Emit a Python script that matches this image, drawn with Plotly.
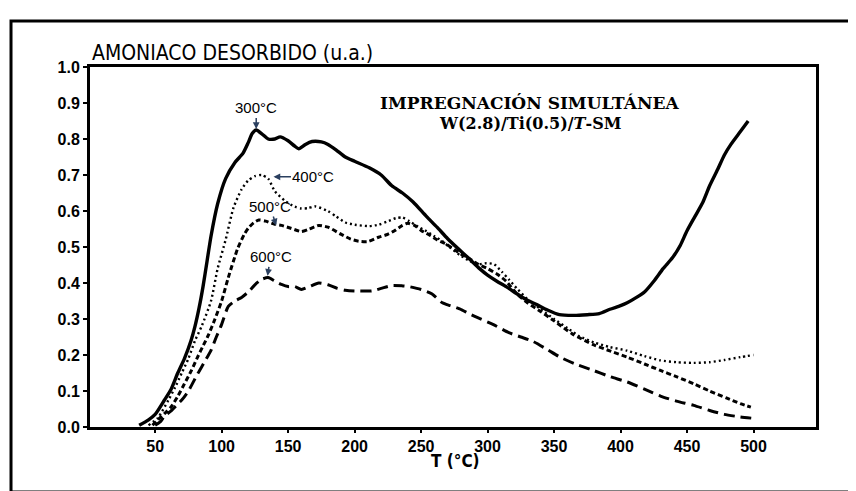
import plotly.graph_objects as go

# ---- data (T in °C, ammonia desorbed in a.u.) ----
x300 = [38, 45, 50, 57, 62, 67, 72, 77, 80, 83, 86, 89, 92, 97, 103, 110, 116, 120, 123, 126, 130, 135, 140, 144,
        150, 155, 158, 163, 168, 175, 180, 186, 193, 200, 211, 220, 228, 236, 244, 254, 262, 270, 278, 286, 294,
        300, 307, 314, 322, 330, 337, 345, 354, 365, 375, 384, 392, 400, 405, 412, 418, 425, 432, 439, 445, 450,
        456, 462, 467, 473, 478, 483, 490, 496]
y300 = [0.005, 0.02, 0.035, 0.075, 0.105, 0.15, 0.19, 0.24, 0.28, 0.33, 0.39, 0.46, 0.53, 0.62, 0.69, 0.735, 0.76,
        0.79, 0.815, 0.825, 0.815, 0.80, 0.80, 0.806, 0.795, 0.78, 0.773, 0.785, 0.793, 0.792, 0.785, 0.77, 0.75,
        0.738, 0.72, 0.70, 0.67, 0.65, 0.625, 0.585, 0.555, 0.523, 0.495, 0.468, 0.44, 0.422, 0.405, 0.39, 0.37,
        0.352, 0.34, 0.325, 0.312, 0.31, 0.312, 0.315, 0.327, 0.337, 0.345, 0.36, 0.375, 0.405, 0.44, 0.47, 0.505,
        0.545, 0.585, 0.625, 0.67, 0.715, 0.755, 0.785, 0.82, 0.85]

x400 = [45, 52, 60, 65, 70, 75, 80, 85, 92, 97, 103, 109, 115, 120, 125, 130, 135, 140, 148, 155, 160, 165, 170,
        180, 186, 193, 200, 211, 218, 224, 231, 236, 241, 248, 254, 260, 266, 272, 279, 286, 293, 299, 305, 311,
        316, 322, 330, 339, 350, 360, 369, 380, 392, 405, 418, 430, 442, 455, 467, 478, 490, 500]
y400 = [0.005, 0.025, 0.075, 0.11, 0.15, 0.19, 0.24, 0.28, 0.35, 0.44, 0.52, 0.61, 0.66, 0.685, 0.697, 0.70, 0.69,
        0.655, 0.627, 0.612, 0.607, 0.608, 0.613, 0.60, 0.585, 0.568, 0.562, 0.558, 0.562, 0.57, 0.58, 0.582, 0.572,
        0.556, 0.544, 0.53, 0.516, 0.498, 0.478, 0.462, 0.452, 0.455, 0.452, 0.43, 0.41, 0.385, 0.355, 0.33, 0.30,
        0.275, 0.252, 0.235, 0.222, 0.212, 0.197, 0.185, 0.18, 0.178, 0.18, 0.186, 0.194, 0.2]

x500 = [48, 52, 57, 62, 67, 72, 77, 82, 86, 90, 95, 100, 105, 112, 117, 120, 124, 128, 133, 140, 145, 152, 160,
        166, 173, 180, 190, 197, 203, 210, 218, 224, 230, 236, 240, 245, 250, 256, 262, 269, 275, 281, 287, 293,
        300, 307, 314, 322, 330, 339, 350, 364, 380, 393, 405, 418, 430, 442, 455, 467, 480, 490, 498]
y500 = [0.005, 0.02, 0.037, 0.056, 0.085, 0.12, 0.155, 0.195, 0.225, 0.255, 0.30, 0.35, 0.415, 0.495, 0.535, 0.552,
        0.567, 0.575, 0.572, 0.563, 0.56, 0.552, 0.543, 0.55, 0.56, 0.555, 0.535, 0.522, 0.516, 0.515, 0.527, 0.534,
        0.545, 0.56, 0.566, 0.56, 0.546, 0.534, 0.52, 0.508, 0.493, 0.478, 0.466, 0.452, 0.44, 0.425, 0.405, 0.37,
        0.345, 0.323, 0.295, 0.258, 0.228, 0.21, 0.194, 0.175, 0.157, 0.14, 0.12, 0.10, 0.08, 0.065, 0.055]

x600 = [50, 54, 57, 62, 66, 70, 75, 82, 87, 92, 96, 100, 105, 110, 115, 120, 125, 130, 135, 140, 145, 150, 155,
        160, 166, 173, 180, 187, 193, 200, 213, 220, 228, 236, 241, 250, 258, 266, 272, 279, 286, 293, 304, 316,
        325, 334, 345, 354, 366, 379, 392, 405, 418, 430, 442, 455, 467, 478, 490, 500]
y600 = [0.005, 0.015, 0.03, 0.045, 0.06, 0.075, 0.10, 0.148, 0.18, 0.213, 0.25, 0.285, 0.335, 0.35, 0.36, 0.375,
        0.395, 0.41, 0.415, 0.405, 0.396, 0.39, 0.39, 0.382, 0.39, 0.40, 0.395, 0.385, 0.38, 0.378, 0.378, 0.385,
        0.393, 0.392, 0.39, 0.382, 0.37, 0.345, 0.337, 0.328, 0.315, 0.303, 0.285, 0.262, 0.25, 0.238, 0.215, 0.195,
        0.175, 0.158, 0.14, 0.125, 0.105, 0.086, 0.072, 0.06, 0.046, 0.035, 0.028, 0.024]

x_ticks = [50, 100, 150, 200, 250, 300, 350, 400, 450, 500]
y_ticks = [0.0, 0.1, 0.2, 0.3, 0.4, 0.5, 0.6, 0.7, 0.8, 0.9, 1.0]

series_labels = ["300°C", "400°C", "500°C", "600°C"]
peak_x = [126, 139, 141, 134.5]
peak_y = [0.828, 0.695, 0.56, 0.42]

NARROW = "Liberation Sans Narrow, DejaVu Sans Condensed, Arial Narrow, sans-serif"
SANS = "Liberation Sans, Arial, sans-serif"
SERIF_WIDE = "DejaVu Serif, Liberation Serif, serif"

fig = go.Figure()
fig.add_trace(go.Scatter(x=x300, y=y300, mode="lines", line=dict(color="black", width=3.4, shape="spline", smoothing=0.6)))
fig.add_trace(go.Scatter(x=x400, y=y400, mode="lines", line=dict(color="black", width=2.4, dash="2px,3px", shape="spline", smoothing=0.6)))
fig.add_trace(go.Scatter(x=x500, y=y500, mode="lines", line=dict(color="black", width=3, dash="5px,3px", shape="spline", smoothing=0.6)))
fig.add_trace(go.Scatter(x=x600, y=y600, mode="lines", line=dict(color="black", width=3, dash="11px,6px", shape="spline", smoothing=0.6)))

# peak labels with arrows
afont = dict(family=SANS, size=15, color="black")
fig.add_annotation(x=peak_x[0], y=peak_y[0], text=series_labels[0], showarrow=True, ax=0, ay=-21,
                   arrowhead=2, arrowsize=0.9, arrowwidth=1.5, font=afont)
fig.add_annotation(x=peak_x[1], y=peak_y[1], text=series_labels[1], showarrow=True, ax=40, ay=0,
                   arrowhead=2, arrowsize=0.9, arrowwidth=1.5, font=afont)
fig.add_annotation(x=peak_x[2], y=peak_y[2], text=series_labels[2], showarrow=True, ax=-6, ay=-19,
                   arrowhead=2, arrowsize=0.9, arrowwidth=1.5, font=afont)
fig.add_annotation(x=peak_x[3], y=peak_y[3], text=series_labels[3], showarrow=True, ax=3, ay=-19,
                   arrowhead=2, arrowsize=0.9, arrowwidth=1.5, font=afont)

# title block inside the plot
fig.add_annotation(xref="paper", yref="paper", x=0.606, y=0.932, text="<b>IMPREGNACIÓN SIMULTÁNEA</b>",
                   showarrow=False, font=dict(family=SERIF_WIDE, size=17, color="black"))
fig.add_annotation(xref="paper", yref="paper", x=0.606, y=0.874, text="<b>W(2.8)/Ti(0.5)/<i>T</i>-SM</b>",
                   showarrow=False, font=dict(family=SERIF_WIDE, size=16, color="black"))

# axis titles
fig.add_annotation(xref="paper", yref="paper", x=0.0, y=1.0, xanchor="left", yanchor="bottom",
                   text="AMONIACO DESORBIDO (u.a.)", showarrow=False,
                   font=dict(family=NARROW, size=21, color="black"))
fig.add_annotation(xref="paper", yref="paper", x=0.503, y=-0.128, text="T (°C)", showarrow=False,
                   font=dict(family=NARROW, size=17, color="black", weight="bold"))

# outer frame
fig.add_shape(type="rect", xref="paper", yref="paper", x0=-0.1088, x1=1.062, y0=-0.1806, y1=1.1278,
              line=dict(color="black", width=3))

fig.update_xaxes(range=[1, 547], tickvals=x_ticks, ticks="outside", ticklen=3, tickwidth=2, tickcolor="black",
                 showline=True, linewidth=2.5, linecolor="black", mirror=True, showgrid=False, zeroline=False,
                 tickfont=dict(family=SANS, size=16, color="black", weight="bold"))
fig.update_yaxes(range=[0, 1.0], tickvals=y_ticks, tickformat=".1f", ticks="outside", ticklen=4, tickwidth=2,
                 tickcolor="black", showline=True, linewidth=3, linecolor="black", mirror=True, showgrid=False,
                 zeroline=False, tickfont=dict(family=SANS, size=16, color="black", weight="bold"))

fig.update_layout(width=856, height=491, margin=dict(l=82, r=48, t=59, b=72), showlegend=False,
                  plot_bgcolor="white", paper_bgcolor="white")

fig.write_html("out.html")
